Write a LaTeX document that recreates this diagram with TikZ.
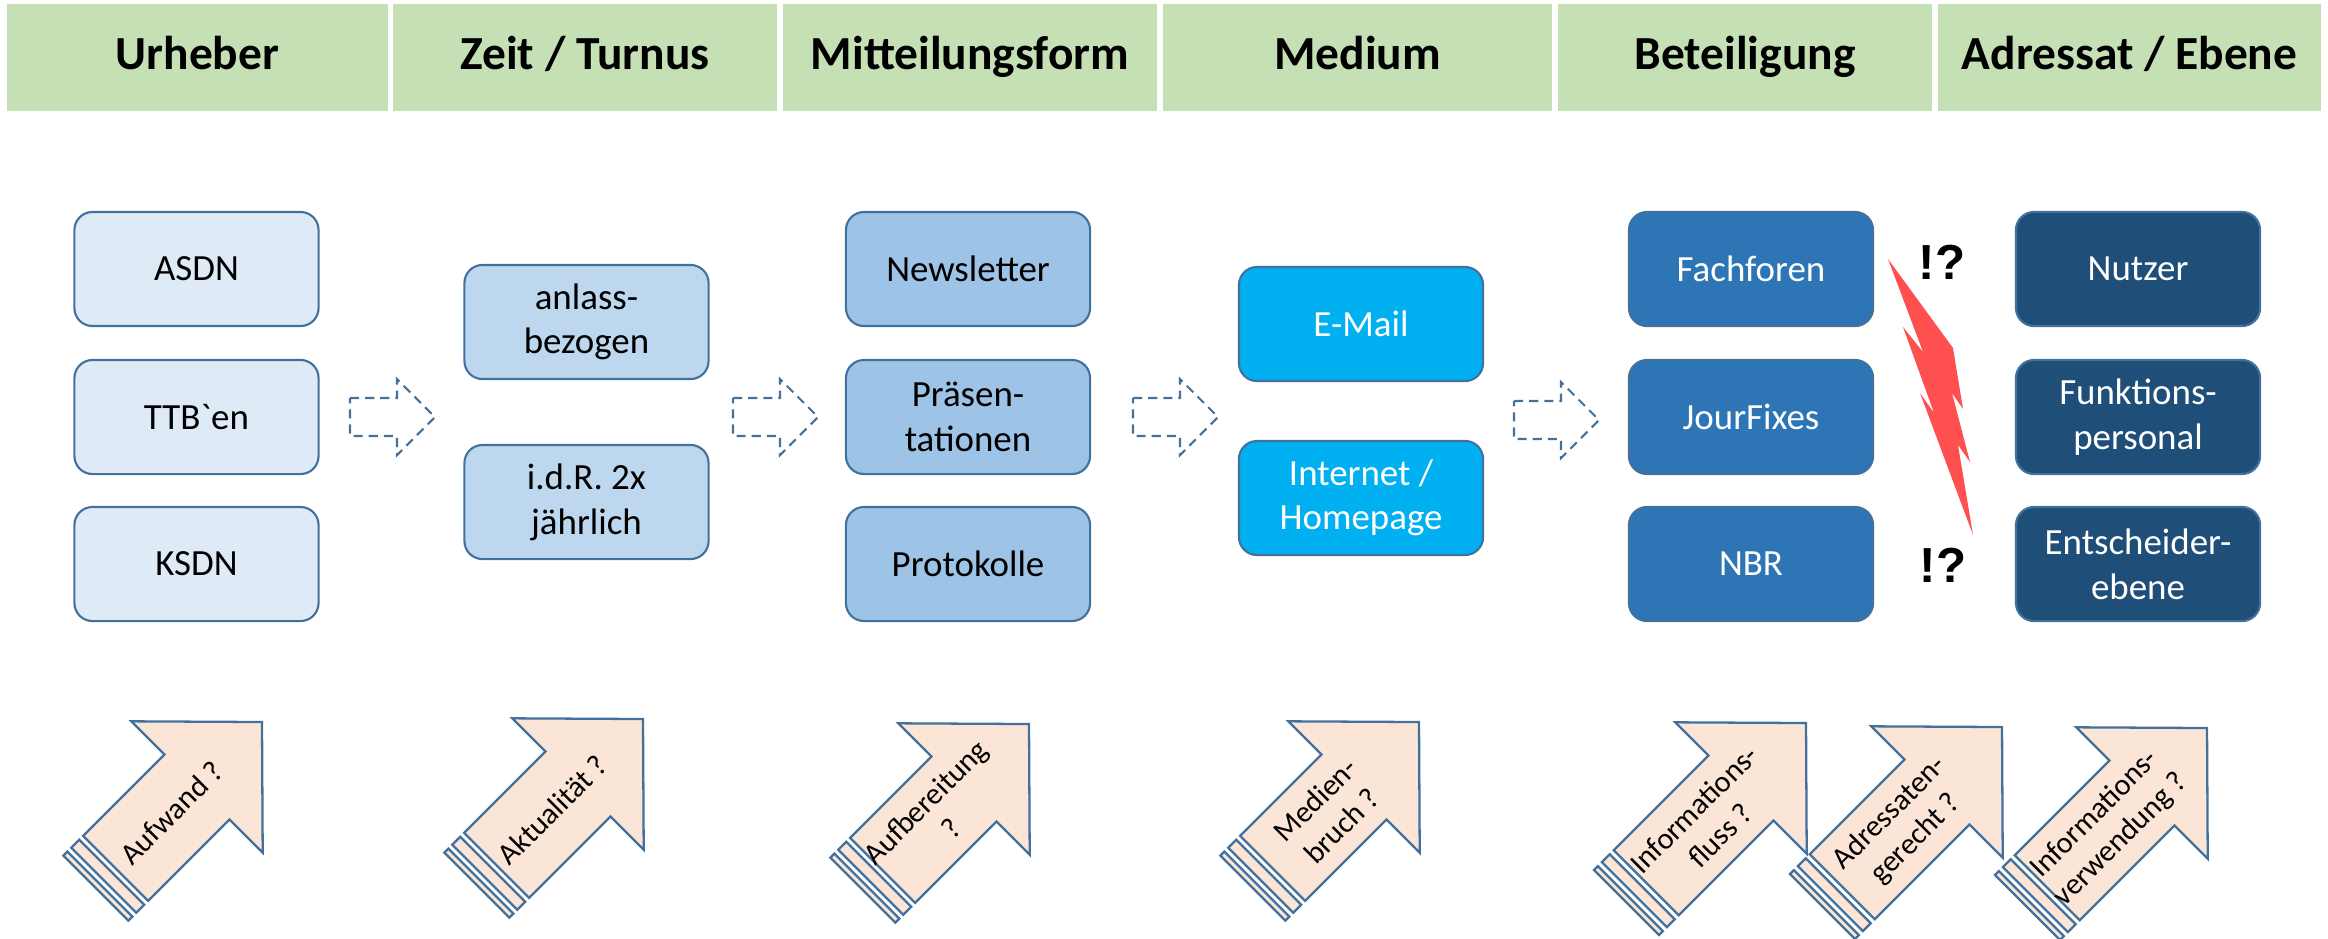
\documentclass[tikz,border=0pt]{standalone}
\usepackage{fontspec}
\setmainfont{Carlito}
\newfontfamily\arialfont{Liberation Sans}
\usetikzlibrary{calc}
\definecolor{hdr}{HTML}{C5E0B4}
\definecolor{bord}{HTML}{41719C}
\definecolor{cA}{HTML}{DEEBF7}
\definecolor{cB}{HTML}{BDD7EE}
\definecolor{cC}{HTML}{9DC3E6}
\definecolor{cD}{HTML}{00B0F0}
\definecolor{cE}{HTML}{2E75B6}
\definecolor{cF}{HTML}{1F4E79}
\definecolor{peach}{HTML}{FBE5D6}
\definecolor{boltc}{HTML}{FF5050}
\tikzset{
  hbox/.style={fill=hdr, minimum height=1.07cm, inner sep=0pt, text height=9.6pt, text depth=2.6pt,
    font=\bfseries\fontsize{13.5}{16}\selectfont},
  rbox/.style={draw=bord, line width=0.6pt, rounded corners=0.18cm,
    minimum width=2.44cm, minimum height=1.14cm, align=center, inner sep=0pt,
    font=\fontsize{10.5}{12.7}\selectfont},
  sarrow/.style={draw=bord, fill=peach, line width=0.65pt, line join=miter},
  atext/.style={align=center, inner sep=0pt, font=\fontsize{8.6}{10.4}\selectfont},
  darrow/.style={draw=bord, line width=0.6pt, dash pattern=on 2.6pt off 1.7pt},
  qmark/.style={font=\arialfont\bfseries\fontsize{14}{16}\selectfont, inner sep=0pt},
}
\newcommand{\stripearrow}[4]{%
  \begin{scope}[shift={#1}, x={(0.007071cm,0.007071cm)}, y={(0.007071cm,-0.007071cm)}]
    \draw[sarrow] (0,0) -- (-92,-93) -- (-92,-46) -- (-#2,-46) -- (-#2,46) -- (-92,46) -- (-92,93) -- cycle;
    \draw[sarrow] ({-#2-5.6},-46) -- ({-#2-16.8},-46) -- ({-#2-16.8},46) -- ({-#2-5.6},46) -- cycle;
    \draw[sarrow] ({-#2-22.4},-46) -- ({-#2-28},-46) -- ({-#2-28},46) -- ({-#2-22.4},46) -- cycle;
    \node[atext, rotate=45] (#3) at ({-0.62*#2},0) {#4};
  \end{scope}}
\newcommand{\dasharr}[1]{%
  \begin{scope}[shift={#1}]
    \draw[darrow] (-42,-19) -- (5,-19) -- (5,-38) -- (43,0) -- (5,38) -- (5,19) -- (-42,19) -- cycle;
  \end{scope}}
\begin{document}
\begin{tikzpicture}[x=0.01cm, y=-0.01cm]
\useasboundingbox (0,0) rectangle (2328,938);
% header
\node[hbox, minimum width=3.81cm] (h1) at (197.5,57.5) {Urheber};
\node[hbox, minimum width=3.84cm] (h2) at (585,57.5) {Zeit / Turnus};
\node[hbox, minimum width=3.74cm] (h3) at (970,57.5) {Mitteilungsform};
\node[hbox, minimum width=3.89cm] (h4) at (1357.5,57.5) {Medium};
\node[hbox, minimum width=3.74cm] (h5) at (1745,57.5) {Beteiligung};
\node[hbox, minimum width=3.83cm] (h6) at (2129.5,57.5) {Adressat / Ebene};
% column 1
\node[rbox, fill=cA] (a1) at (196.5,269) {ASDN};
\node[rbox, fill=cA] (a2) at (196.5,417) {TTB\textasciigrave en};
\node[rbox, fill=cA] (a3) at (196.5,564) {KSDN};
% column 2
\node[rbox, fill=cB] (b1) at (586.5,322) {anlass-\\bezogen};
\node[rbox, fill=cB] (b2) at (586.5,502) {i.d.R. 2x\\jährlich};
% column 3
\node[rbox, fill=cC] (c1) at (968,269) {Newsletter};
\node[rbox, fill=cC] (c2) at (968,417) {Präsen-\\tationen};
\node[rbox, fill=cC] (c3) at (968,564) {Protokolle};
% column 4
\node[rbox, fill=cD, text=white] (d1) at (1361,324) {E-Mail};
\node[rbox, fill=cD, text=white] (d2) at (1361,498) {Internet /\\Homepage};
% column 5
\node[rbox, fill=cE, text=white] (e1) at (1751,269) {Fachforen};
\node[rbox, fill=cE, text=white] (e2) at (1751,417) {JourFixes};
\node[rbox, fill=cE, text=white] (e3) at (1751,564) {NBR};
% column 6
\node[rbox, fill=cF, text=white] (f1) at (2138,269) {Nutzer};
\node[rbox, fill=cF, text=white] (f2) at (2138,417) {Funktions-\\personal};
\node[rbox, fill=cF, text=white] (f3) at (2138,564) {Entscheider-\\ebene};
% dashed block arrows
\coordinate (p1) at (392,417);
\coordinate (p2) at (775,417);
\coordinate (p3) at (1175,417);
\coordinate (p4) at (1556,420);
\dasharr{(p1)}
\dasharr{(p2)}
\dasharr{(p3)}
\dasharr{(p4)}
% lightning
\fill[boltc] (1888,259) -- (1953,348) -- (1963,409) -- (1952,393) -- (1970,462) -- (1958,445) -- (1973,535)
  -- (1920,393) -- (1934,413) -- (1903,327) -- (1923,352) -- cycle;
\node[qmark] (q1) at (1942,262) {!?};
\node[qmark] (q2) at (1943,565) {!?};
% bottom striped arrows
\stripearrow{(262,722)}{207}{t1}{Aufwand ?}
\stripearrow{(643,719)}{207}{t2}{Aktualität ?}
\stripearrow{(1029,724)}{207}{t3}{Aufbereitung\\?}
\stripearrow{(1419,722)}{207}{t4}{Medien-\\bruch ?}
\stripearrow{(1806,723)}{226}{t5}{Informations-\\fluss ?}
\stripearrow{(2002,727)}{226}{t6}{Adressaten-\\gerecht ?}
\stripearrow{(2207,728)}{226}{t7}{Informations-\\verwendung ?}
\end{tikzpicture}
\end{document}
